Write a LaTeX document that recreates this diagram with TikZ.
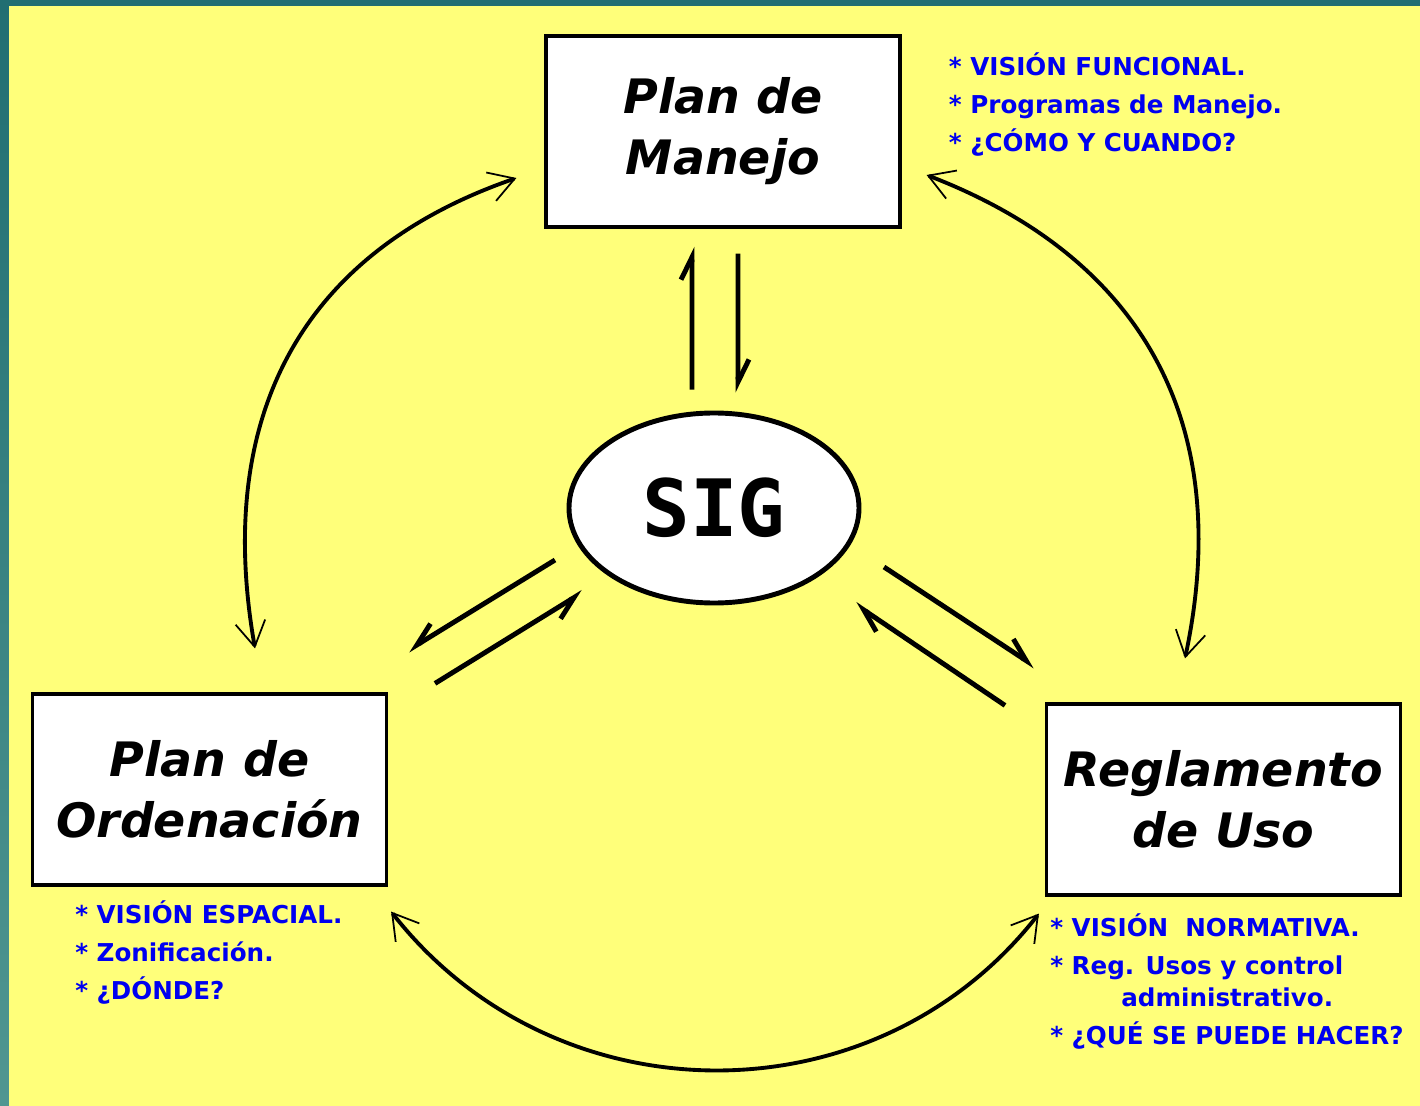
\documentclass[tikz,border=0pt]{standalone}
\usepackage{fontspec}
\setmainfont{DejaVu Sans}
\newfontfamily\sigfont{DejaVu Sans Mono}
\usetikzlibrary{positioning,calc,shapes.geometric,arrows.meta}
\definecolor{fondo}{RGB}{255,255,122}
\definecolor{marco}{RGB}{33,110,114}
\definecolor{marcoclaro}{RGB}{80,150,145}
\definecolor{azul}{RGB}{0,0,240}

\begin{document}
\begin{tikzpicture}[
    box/.style={
        rectangle,
        draw,
        fill=white,
        line width=1.8pt,
        minimum width=7.08cm,
        minimum height=3.82cm,
        align=center,
        font=\fontsize{27}{34.7}\selectfont\bfseries\itshape
        },
    nota/.style={
        anchor=north west,
        inner sep=0pt,
        align=left,
        text=azul,
        font=\fontsize{14}{21.6}\selectfont\bfseries
        },
    harp/.style={
        line width=2.8pt,
        -{Straight Barb[#1,length=4.5mm,width=4.4mm]}
        },
    ciclo/.style={
        line width=2.2pt,
        {Straight Barb[length=5mm,width=6mm,line width=1pt]}-{Straight Barb[length=5mm,width=6mm,line width=1pt]}
        },
]

% fondo
\fill[marco] (0,0) rectangle (28.4,-22.12);
\shade[top color=marco, bottom color=marcoclaro] (0,0) rectangle (0.18,-22.12);
\fill[fondo] (0.18,-0.12) rectangle (28.4,-22.12);
\useasboundingbox (0,0) rectangle (28.4,-22.12);

\node[box] (pm) at (14.46,-2.63) {Plan de\\Manejo};
\node[box] (po) at (4.19,-15.79) {Plan de\\Ordenación};
\node[box] (ru) at (24.47,-15.99) {Reglamento\\de Uso};
\node[ellipse, draw, fill=white, line width=2.8pt, minimum width=5.8cm, minimum height=3.8cm,
    font=\sigfont\bfseries\fontsize{45}{50}\selectfont] (sig) at (14.28,-10.16) {SIG};

\node[nota] (tpm) at ([xshift=0.94cm,yshift=-0.36cm]pm.north east)
    {* VISIÓN FUNCIONAL.\\* Programas de Manejo.\\* ¿CÓMO Y CUANDO?};
\node[nota] (tpo) at ([xshift=0.88cm,yshift=-0.28cm]po.south west)
    {* VISIÓN ESPACIAL.\\* Zonificación.\\* ¿DÓNDE?};
\node[nota] (tru) at ([xshift=0.1cm,yshift=-0.34cm]ru.south west)
    {* VISIÓN~~NORMATIVA.\\* Reg. Usos y control\\[-0.12cm]\hspace*{1.42cm}administrativo.\\* ¿QUÉ SE PUEDE HACER?};

% flechas con SIG
\draw[harp=left] ([xshift=-0.44cm,yshift=0.42cm]sig.north) -- ([xshift=-0.62cm,yshift=-0.36cm]pm.south);
\draw[harp=left] ([xshift=0.3cm,yshift=-0.5cm]pm.south) -- ([xshift=0.48cm,yshift=0.36cm]sig.north);
\draw[harp=right] ([xshift=-3.18cm,yshift=-1.04cm]sig.center) -- ([xshift=3.97cm,yshift=0.84cm]po.north);
\draw[harp=right] ([xshift=4.51cm,yshift=0.18cm]po.north) -- ([xshift=-2.62cm,yshift=-1.68cm]sig.center);
\draw[harp=left] ([xshift=3.4cm,yshift=-1.18cm]sig.center) -- ([xshift=-3.77cm,yshift=0.72cm]ru.north);
\draw[harp=left] ([xshift=-4.37cm,yshift=-0.06cm]ru.north) -- ([xshift=2.82cm,yshift=-1.92cm]sig.center);

% ciclo exterior
\draw[ciclo] ([xshift=-0.56cm,yshift=-0.93cm]pm.west) to[out=199,in=100,looseness=1.1] ([xshift=0.91cm,yshift=0.88cm]po.north);
\draw[ciclo] ([xshift=0.5cm,yshift=-0.87cm]pm.east) to[out=-21,in=78,looseness=1.1] ([xshift=-0.77cm,yshift=0.88cm]ru.north);
\draw[ciclo] ([xshift=0.06cm,yshift=-0.5cm]po.south east) to[out=-52,in=232,looseness=1.05] ([xshift=-0.12cm,yshift=-0.34cm]ru.south west);

\end{tikzpicture}
\end{document}
